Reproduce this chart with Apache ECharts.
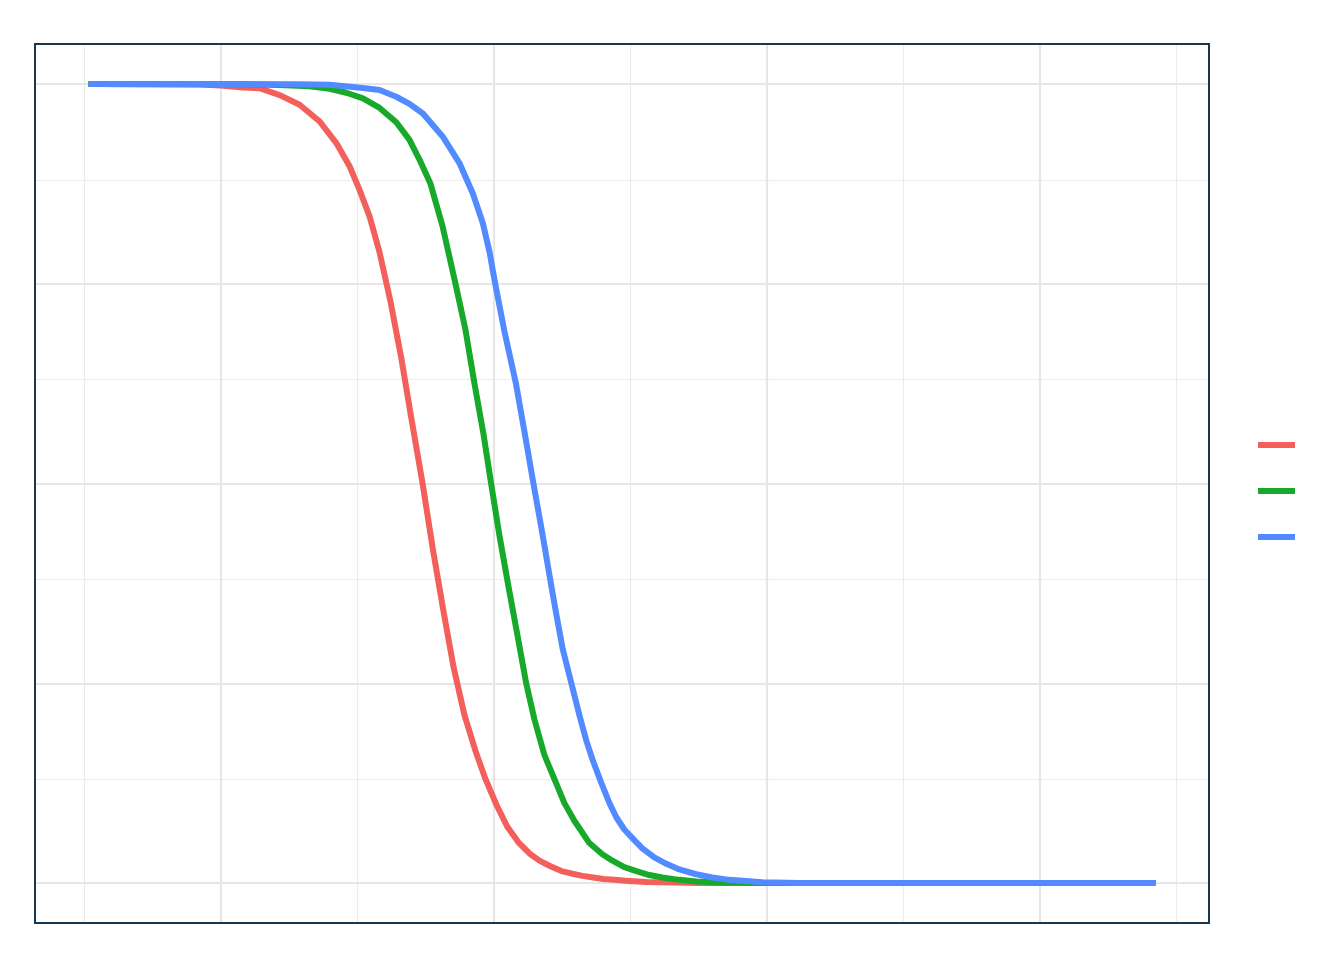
<!DOCTYPE html>
<html>
<head>
<meta charset="utf-8">
<script src="https://cdn.jsdelivr.net/npm/echarts@6/dist/echarts.min.js"></script>
<style>
  html, body { margin: 0; padding: 0; background: #fff; }
  #chart { width: 1344px; height: 960px; }
</style>
</head>
<body>
<div id="chart"></div>
<script>
// curve readings (x in grid units, y as share)
const xRed = [-0.972, -0.156, -0.002, 0.137, 0.283, 0.43, 0.576, 0.723, 0.845, 0.942, 1.015, 1.089, 1.162, 1.242, 1.323, 1.396, 1.477,
  1.55, 1.63, 1.704, 1.784, 1.865, 1.938, 2.018, 2.099, 2.179, 2.26, 2.333, 2.414, 2.494, 2.567, 2.648, 2.728, 2.802, 2.882, 2.963, 3.116, 3.504, 3.87, 6.848]
const yRed = [1, 0.9994, 0.998, 0.996, 0.9946, 0.986, 0.974, 0.953, 0.926, 0.897, 0.8675, 0.834, 0.789, 0.7275, 0.655, 0.58, 0.5,
  0.42, 0.34, 0.27, 0.21, 0.165, 0.13, 0.098, 0.07, 0.051, 0.037, 0.028, 0.021, 0.015, 0.012, 0.009, 0.007, 0.005, 0.004, 0.003, 0.0012, 0.0002, 0, 0]

const xGreen = [-0.972, 0.21, 0.43, 0.649, 0.796, 0.918, 1.04, 1.162, 1.284, 1.381, 1.455, 1.535, 1.623, 1.718, 1.791, 1.857, 1.923, 1.979,
  2.04, 2.102, 2.172, 2.236, 2.296, 2.37, 2.443, 2.516, 2.589, 2.699, 2.794, 2.868, 2.955, 3.043, 3.138, 3.234, 3.358, 3.482, 3.724, 4.09, 6.848]
const yGreen = [1, 0.9995, 0.9988, 0.997, 0.994, 0.989, 0.982, 0.97, 0.952, 0.93, 0.905, 0.875, 0.822, 0.75, 0.6925, 0.625, 0.562, 0.5,
  0.435, 0.375, 0.31, 0.25, 0.205, 0.16, 0.13, 0.1, 0.078, 0.05, 0.036, 0.028, 0.02, 0.015, 0.01, 0.007, 0.004, 0.002, 0.0005, 0, 0]

const xBlue = [-0.972, 0.576, 0.796, 1.04, 1.162, 1.284, 1.381, 1.479, 1.625, 1.747, 1.845, 1.918, 1.967, 2.009, 2.077, 2.161, 2.223, 2.289,
  2.352, 2.417, 2.458, 2.504, 2.567, 2.626, 2.677, 2.721, 2.787, 2.846, 2.897, 2.955, 3.021, 3.087, 3.175, 3.263, 3.358, 3.482, 3.6, 3.724, 3.848, 3.966, 4.236, 4.529, 6.848]
const yBlue = [1, 0.9996, 0.999, 0.995, 0.9925, 0.984, 0.975, 0.963, 0.934, 0.901, 0.863, 0.826, 0.79, 0.75, 0.69, 0.625, 0.565, 0.5,
  0.44, 0.375, 0.335, 0.2925, 0.25, 0.21, 0.178, 0.155, 0.125, 0.1, 0.082, 0.067, 0.055, 0.0435, 0.032, 0.024, 0.017, 0.011, 0.007, 0.004, 0.0025, 0.001, 0.0002, 0, 0]

const seriesNames = ['A', 'B', 'C']
const seriesColors = ['#F3605B', '#17A92A', '#518BFF']

// grid line positions
const majorX = [0, 2, 4, 6]
const minorX = [-1, 1, 3, 5, 7]
const majorY = [0, 0.25, 0.5, 0.75, 1]
const minorY = [0.125, 0.375, 0.625, 0.875]

const zip = (xs, ys) => xs.map((x, i) => [x, ys[i]])

const gridLines = [
  ...minorX.map(v => ({ xAxis: v, lineStyle: { width: 1.1, color: '#ebebeb', type: 'solid' } })),
  ...minorY.map(v => ({ yAxis: v, lineStyle: { width: 1.1, color: '#ebebeb', type: 'solid' } })),
  ...majorX.map(v => ({ xAxis: v, lineStyle: { width: 2.2, color: '#e6e6e6', type: 'solid' } })),
  ...majorY.map(v => ({ yAxis: v, lineStyle: { width: 2.2, color: '#e6e6e6', type: 'solid' } }))
]

const curves = [zip(xRed, yRed), zip(xGreen, yGreen), zip(xBlue, yBlue)]

const chart = echarts.init(document.getElementById('chart'))
chart.setOption({
  animation: false,
  backgroundColor: '#fff',
  grid: {
    left: 35,
    right: 135,
    top: 44,
    bottom: 37,
    show: true,
    z: 10,
    borderColor: '#183850',
    borderWidth: 2,
    backgroundColor: 'transparent'
  },
  xAxis: {
    type: 'value',
    min: -1.363,
    max: 7.239,
    axisLine: { show: false },
    axisTick: { show: false },
    axisLabel: { show: false },
    splitLine: { show: false }
  },
  yAxis: {
    type: 'value',
    min: -0.05,
    max: 1.05,
    axisLine: { show: false },
    axisTick: { show: false },
    axisLabel: { show: false },
    splitLine: { show: false }
  },
  legend: {
    data: seriesNames,
    orient: 'vertical',
    left: 1258,
    top: 442,
    padding: 0,
    itemWidth: 37,
    itemHeight: 6,
    itemGap: 40,
    icon: 'rect',
    formatter: () => '',
    selectedMode: false,
    textStyle: { fontSize: 6, lineHeight: 6 }
  },
  series: [
    {
      name: 'grid',
      type: 'line',
      data: [],
      z: 1,
      silent: true,
      markLine: {
        z: 1,
        silent: true,
        symbol: ['none', 'none'],
        label: { show: false },
        emphasis: { disabled: true },
        data: gridLines
      }
    },
    ...curves.map((d, i) => ({
      name: seriesNames[i],
      type: 'line',
      data: d,
      z: 3 + i,
      symbol: 'none',
      showSymbol: false,
      color: seriesColors[i],
      lineStyle: { width: 6, color: seriesColors[i], cap: 'butt', join: 'round' },
      emphasis: { disabled: true }
    }))
  ]
})
</script>
</body>
</html>
